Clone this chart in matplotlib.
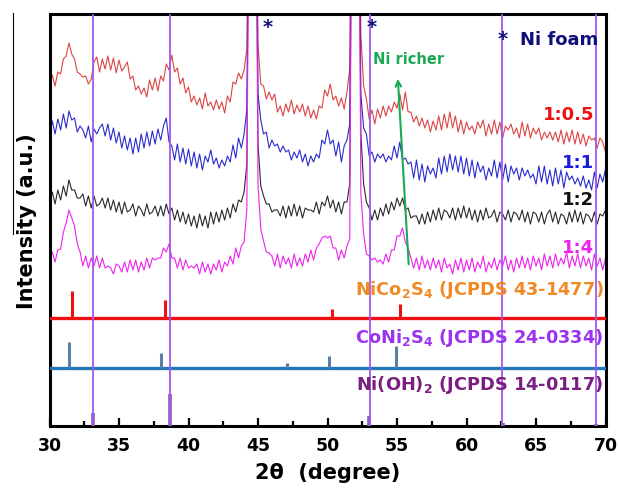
import numpy as np
import matplotlib
matplotlib.use("Agg")
import matplotlib.pyplot as plt
from matplotlib.lines import Line2D

plt.rcParams['font.family'] = ['DejaVu Sans']
plt.rcParams['font.weight'] = 'bold'
plt.rcParams['mathtext.default'] = 'bf'

# ---------------- data ----------------
two_theta = np.round(np.arange(30.0, 70.0001, 0.2), 1)

trace_1_05 = [
    340,349,338,352,350,365,368,381,370,365,
    352,350,347,348,340,345,362,367,352,365,
    355,368,354,366,351,364,353,357,362,345,
    348,334,338,330,336,327,344,334,346,333,
    348,343,360,354,369,352,356,340,346,331,
    337,322,328,319,326,315,331,318,322,314,
    324,315,322,311,328,322,342,340,351,345,
    354,375,700,900,700,380,340,338,325,332,
    324,330,312,318,308,320,312,324,310,319,
    312,320,308,318,306,314,305,318,316,334,
    328,340,324,328,318,326,315,332,355,700,
    900,700,390,338,325,305,314,300,315,306,
    318,308,318,312,322,316,330,314,332,312,
    312,302,308,298,306,296,304,292,303,294,
    308,294,310,296,312,296,308,292,304,290,
    302,294,298,290,302,296,304,288,300,290,
    304,290,302,286,298,294,300,290,296,286,
    302,288,300,286,296,290,296,284,292,286,
    292,284,292,282,294,280,292,282,294,280,
    292,280,290,278,288,284,286,276,286,282,
    272]

trace_1_1 = [
    286,303,290,305,294,310,296,313,304,306,
    292,298,294,286,298,282,295,290,296,300,
    288,300,284,296,281,292,276,288,274,286,
    270,286,272,290,276,292,278,293,280,295,
    284,298,306,282,278,264,280,262,276,260,
    275,258,272,256,270,254,268,262,274,260,
    266,256,264,258,268,262,279,266,286,276,
    290,315,700,900,700,330,304,290,292,276,
    284,278,280,272,278,272,274,264,272,266,
    274,262,270,258,268,262,270,266,284,280,
    294,280,284,268,282,262,278,284,300,700,
    900,700,330,296,290,268,272,262,270,266,
    270,262,268,264,278,266,282,264,266,260,
    262,246,264,244,260,242,258,250,256,246,
    266,250,268,252,270,254,268,252,268,250,
    266,248,264,246,262,252,258,244,256,248,
    264,246,262,244,260,242,258,250,256,244,
    256,248,254,246,250,240,258,242,258,240,
    254,238,256,240,254,236,252,244,248,240,
    246,238,248,236,244,234,252,236,250,242,
    255]

trace_1_2 = [
    222,232,220,234,224,238,228,244,234,234,
    226,226,230,218,228,216,228,218,220,226,
    216,226,214,224,212,222,210,222,212,214,
    220,208,218,214,208,220,210,212,218,208,
    218,208,220,210,216,204,214,202,212,200,
    210,198,208,196,210,198,208,196,212,200,
    212,202,214,204,216,206,220,212,224,222,
    232,260,700,900,700,280,238,228,220,220,
    212,214,214,208,218,206,218,208,220,208,
    218,206,216,214,214,212,222,210,222,218,
    228,216,224,212,222,210,222,222,240,700,
    900,700,290,240,222,216,204,214,204,216,
    208,220,210,222,214,226,218,226,214,216,
    206,208,208,200,210,200,212,202,214,204,
    216,204,214,212,206,216,204,216,206,218,
    206,216,204,214,202,214,204,216,206,208,
    214,202,212,210,204,214,202,212,210,204,
    214,202,212,200,212,210,202,212,200,210,
    214,202,212,200,210,208,200,212,202,214,
    202,212,200,210,208,202,212,200,210,208,
    214]

trace_1_4 = [
    164,172,162,174,175,192,201,214,206,198,
    180,172,158,168,156,166,158,168,156,166,
    156,158,156,150,160,158,152,162,152,164,
    154,164,152,162,154,166,156,166,164,166,
    166,176,172,180,166,166,156,166,154,164,
    156,158,156,160,150,162,152,160,150,160,
    154,164,152,162,158,168,160,176,166,178,
    182,215,700,900,700,240,195,183,172,171,
    168,158,170,156,168,160,166,156,170,158,
    166,158,170,162,174,164,176,180,186,188,
    186,188,176,176,164,174,166,178,185,700,
    900,700,230,190,170,168,164,166,162,164,
    160,170,162,174,174,188,188,196,182,176,
    166,156,166,154,168,156,164,154,166,156,
    164,152,166,156,160,150,164,154,166,152,
    164,154,166,152,162,156,168,152,162,156,
    166,154,164,158,168,154,164,152,166,156,
    168,156,166,154,168,158,166,154,170,158,
    168,156,170,158,166,160,172,156,168,158,
    170,156,168,158,166,154,170,158,166,154,
    166]

sample_labels = ['1:0.5', '1:1', '1:2', '1:4']

# reference patterns (2theta, stick height a.u.)
nico2s4_pos = [31.6, 38.3, 50.3, 55.2]
nico2s4_int = [27, 18, 9, 14]
coni2s4_pos = [31.4, 38.0, 47.1, 50.1, 54.9, 64.7, 69.0]
coni2s4_int = [26, 15, 5, 12, 22, 1.5, 1.5]
nioh2_pos = [33.1, 38.65, 53.0, 62.6, 69.3]
nioh2_int = [13, 32, 10, 3, 2]
nioh2_lines = [33.1, 38.7, 53.05, 62.55, 69.3]
ni_foam_pos = [45.7, 53.2, 62.6]

ref_labels = ['NiCo$_2$S$_4$ (JCPDS 43-1477)',
              'CoNi$_2$S$_4$ (JCPDS 24-0334)',
              'Ni(OH)$_2$ (JCPDS 14-0117)']

# ---------------- figure ----------------
W, H = 619, 489
fig = plt.figure(figsize=(W / 100, H / 100), dpi=100)
ax = fig.add_axes([49.5 / W, 1 - 427 / H, (605.5 - 49.5) / W, (427 - 15) / H])
ax.set_xlim(30, 70)
ax.set_ylim(-2, 410)

trace_colors = ['#dd4444', '#2b2bd0', '#2a2a2a', '#ee22ee']
for tr, c in zip([trace_1_05, trace_1_1, trace_1_2, trace_1_4], trace_colors):
    ax.plot(two_theta, tr, color=c, lw=0.8, zorder=2)

# reference stick patterns
base_nico = 106
base_coni = 56
ax.axhline(base_nico, color='#ee1111', lw=2.4, zorder=3)
ax.vlines(nico2s4_pos, base_nico, np.array(nico2s4_int) + base_nico,
          color='#ee1111', lw=2.2, zorder=3)
ax.axhline(base_coni, color='#2277bb', lw=2.4, zorder=3)
ax.vlines(coni2s4_pos, base_coni, np.array(coni2s4_int) + base_coni,
          color='#5b7fa6', lw=2.2, zorder=3)
ax.vlines(nioh2_pos, -2, np.array(nioh2_int) - 2,
          color='#8a5fa8', lw=2.6, zorder=3)

for x in nioh2_lines:
    ax.axvline(x, color='#a158f0', lw=1.3, zorder=4)

# texts
lab_y = [310, 262, 225, 177]
for lab, c, y in zip(sample_labels, ['#ee1111', '#1a1ae0', '#111111', '#ee22ee'], lab_y):
    ax.text(69.2, y, lab, color=c, fontsize=13, fontweight='bold',
            ha='right', va='center', zorder=5)

ref_colors = ['#f08a24', '#9a33f0', '#7a1f80']
ref_y = [135, 87, 40]
for lab, c, y in zip(ref_labels, ref_colors, ref_y):
    ax.text(69.85, y, lab, color=c, fontsize=12.8, fontweight='bold',
            ha='right', va='center', zorder=5)

navy = '#10107a'
for x, y in zip(ni_foam_pos, [398, 398, 386]):
    ax.text(x, y, '*', color=navy, fontsize=14, fontweight='bold',
            ha='center', va='center', zorder=5)
ax.text(69.5, 385, 'Ni foam', color=navy, fontsize=13, fontweight='bold',
        ha='right', va='center', zorder=5)

ax.text(55.85, 366, 'Ni richer', color='#1aaa55', fontsize=10.5,
        fontweight='bold', ha='center', va='center', zorder=5)
ax.annotate('', xy=(55.05, 348), xytext=(55.85, 157),
            arrowprops=dict(arrowstyle='->', color='#1aaa55', lw=1.5,
                            mutation_scale=10), zorder=5)

# axes styling
ax.set_yticks([])
ax.set_xticks(np.arange(30, 71, 5))
ax.set_xticks(np.arange(32.5, 70, 5), minor=True)
ax.tick_params(axis='x', which='major', direction='in', length=6, width=1.6,
               labelsize=12.5, pad=7, top=False)
ax.tick_params(axis='x', which='minor', direction='in', length=3.5, width=1.6,
               top=False)
for lbl in ax.get_xticklabels():
    lbl.set_fontweight('bold')
for s in ax.spines.values():
    s.set_linewidth(2.2)

ax.set_xlabel('2θ  (degree)', fontsize=15, fontweight='bold', labelpad=6)
ax.set_ylabel('Intensity (a.u.)', fontsize=15, fontweight='bold', labelpad=9)

fig.add_artist(Line2D([13 / W, 13 / W], [1 - 14 / H, 1 - 235 / H],
                      lw=0.8, color='black'))

fig.savefig('out.png', dpi=100)
